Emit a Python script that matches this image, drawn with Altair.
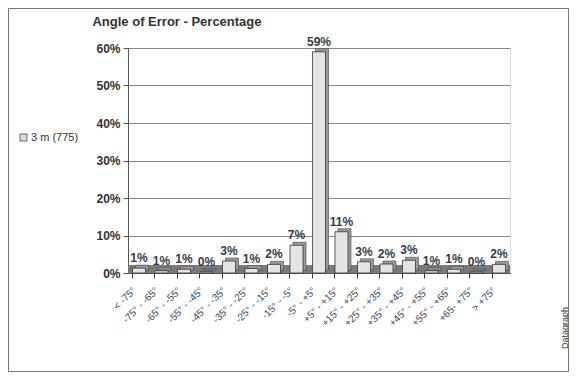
import altair as alt
import pandas as pd

categories = ["< -75°", "-75° - -65°", "-65° - -55°", "-55° - -45°", "-45° - -35°",
              "-35° - -25°", "-25° - -15°", "-15° - -5°", "-5° - +5°", "+5° - +15°",
              "+15° - +25°", "+25° - +35°", "+35° - +45°", "+45° - +55°", "+55° - +65°",
              "+65- +75°", "> +75°"]
values = [1.3, 0.6, 1.0, 0.3, 3.2, 1.2, 2.3, 7.4, 59.0, 11.0, 3.0, 2.4, 3.4, 0.6, 1.0, 0.3, 2.3]
y_ticks = [0, 10, 20, 30, 40, 50, 60]

df = pd.DataFrame({"cat": categories, "val": values,
                   "label": [f"{round(v)}%" for v in values]})

W, H = 382, 225
FONT = "Liberation Sans"

x = alt.X("cat:N", sort=categories, title=None,
          scale=alt.Scale(paddingInner=0.42, paddingOuter=0.2),
          axis=alt.Axis(labelAngle=-45, labelFont=FONT, labelFontSize=10,
                        labelColor="#3a4a66", tickColor="#333", domainColor="#555",
                        tickSize=5, labelPadding=7, labelOffset=-8, ticks=True,
                        bandPosition=0))
y = alt.Y("val:Q", title=None,
          scale=alt.Scale(domain=[0, 60], nice=False),
          axis=alt.Axis(values=y_ticks, labelExpr="datum.value + '%'", labelFont=FONT,
                        labelFontSize=12, labelFontWeight="bold", labelColor="#333",
                        gridColor="#888", gridWidth=1, tickColor="#555", tickSize=5,
                        domainColor="#555", labelPadding=3))

base = alt.Chart(df)
one = alt.Chart(pd.DataFrame({"a": [0]}))

floor = one.mark_rect(color="#7a7a7a").encode(
    x=alt.value(0), x2=alt.value(W), y=alt.value(H - 8), y2=alt.value(H))

shadow = base.mark_bar(fill="#9a9a9a", stroke="#444", strokeWidth=0.6,
                       xOffset=3, yOffset=-3).encode(x=x, y=y)
bars = base.mark_bar(fill="#e4e4e4", stroke="#333", strokeWidth=0.8).encode(x=x, y=y)

labels = base.mark_text(font=FONT, fontSize=12, fontWeight="bold", color="#343c4c",
                        dy=-10).encode(x=x, y=y, text="label:N")

title = one.mark_text(font=FONT, fontSize=13, fontWeight="bold", color="#333",
                      align="center").encode(
    x=alt.value(49), y=alt.value(-26), text=alt.datum("Angle of Error - Percentage"))

legend_box = one.mark_rect(fill="#ddd", stroke="#444", strokeWidth=0.8).encode(
    x=alt.value(-108), x2=alt.value(-101), y=alt.value(86), y2=alt.value(93))
legend_text = one.mark_text(font=FONT, fontSize=11, color="#333", align="left").encode(
    x=alt.value(-97), y=alt.value(90), text=alt.datum("3 m (775)"))

credit = one.mark_text(font=FONT, fontSize=9, color="#333", angle=270,
                       align="center", baseline="middle").encode(
    x=alt.value(437), y=alt.value(280), text=alt.datum("Datagraph"))

border = one.mark_rect(fill=None, stroke="#777", strokeWidth=1).encode(
    x=alt.value(-119.5), x2=alt.value(440.5), y=alt.value(-39.5), y2=alt.value(323.5))

chart = alt.layer(floor, shadow, bars, labels, title, legend_box, legend_text,
                  credit, border).properties(
    width=W, height=H,
    autosize=alt.AutoSizeParams(type="none"),
    padding={"left": 120, "top": 40, "right": 59, "bottom": 99},
).configure_view(stroke="#666").configure(background="white")

chart.save("out.html", embed_options={"renderer": "svg", "actions": False})
